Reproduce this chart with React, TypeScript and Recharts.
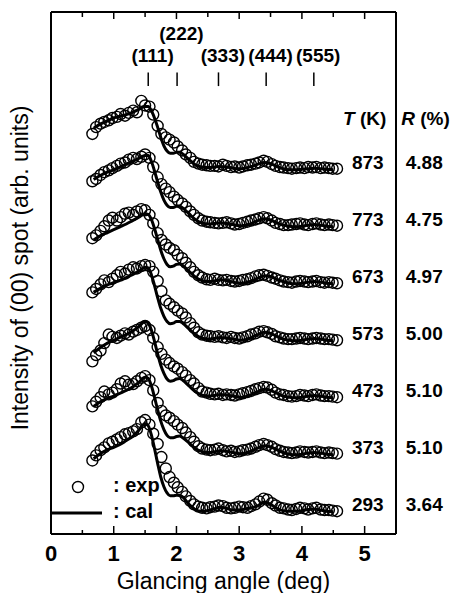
import { ComposedChart, Line, Scatter, XAxis, YAxis, ReferenceDot, ReferenceLine, Legend } from "recharts";

// glancing angles (deg) of measured points and of calculated curve
const ANGLES = [0.66, 0.72, 0.79, 0.85, 0.92, 0.98, 1.05, 1.11, 1.18, 1.24, 1.31, 1.37, 1.44, 1.5, 1.57, 1.63, 1.7, 1.76, 1.83, 1.89, 1.96, 2.02, 2.09, 2.15, 2.22, 2.28, 2.35, 2.41, 2.48, 2.54, 2.61, 2.67, 2.74, 2.8, 2.87, 2.93, 3.0, 3.06, 3.13, 3.19, 3.26, 3.32, 3.39, 3.45, 3.52, 3.58, 3.65, 3.71, 3.78, 3.84, 3.91, 3.97, 4.04, 4.1, 4.17, 4.23, 4.3, 4.36, 4.43, 4.49, 4.56];
const CAL_ANGLES = [0.68, 0.8, 0.9, 1.0, 1.1, 1.2, 1.3, 1.4, 1.5, 1.55, 1.6, 1.65, 1.7, 1.75, 1.8, 1.85, 1.9, 1.95, 2.0, 2.05, 2.1, 2.2, 2.3, 2.4, 2.5, 2.6, 2.7, 2.8, 2.9, 3.0, 3.1, 3.2, 3.3, 3.4, 3.5, 3.6, 3.7, 3.8, 3.9, 4.0, 4.1, 4.2, 4.3, 4.4, 4.5];

const TEMPS = ["873", "773", "673", "573", "473", "373", "293"];
const R_FACTORS = ["4.88", "4.75", "4.97", "5.00", "5.10", "5.10", "3.64"];

// intensities (arb. units, relative to each curve's own tail)
const EXP_873 = [0.62, 0.74, 0.8, 0.83, 0.86, 0.9, 0.92, 0.97, 0.94, 0.99, 1.03, 1.0, 1.2, 1.12, 1.1, 0.96, 0.76, 0.62, 0.56, 0.52, 0.47, 0.4, 0.33, 0.26, 0.2, 0.13, 0.1, 0.08, 0.07, 0.06, 0.06, 0.05, 0.08, 0.06, 0.04, 0.05, 0.03, 0.05, 0.07, 0.08, 0.1, 0.12, 0.15, 0.13, 0.09, 0.06, 0.04, 0.03, 0.02, 0.01, 0.02, 0.03, 0.02, 0.04, 0.03, 0.04, 0.02, 0.03, 0.02, 0.01, 0.01];
const EXP_773 = [0.79, 0.83, 0.9, 0.95, 0.98, 1.02, 1.06, 1.1, 1.12, 1.17, 1.2, 1.18, 1.22, 1.26, 1.2, 1.04, 0.86, 0.74, 0.66, 0.6, 0.52, 0.46, 0.4, 0.34, 0.26, 0.2, 0.14, 0.1, 0.08, 0.07, 0.06, 0.05, 0.06, 0.07, 0.05, 0.03, 0.04, 0.06, 0.08, 0.1, 0.12, 0.14, 0.16, 0.14, 0.1, 0.06, 0.04, 0.02, 0.02, 0.03, 0.04, 0.05, 0.03, 0.02, 0.04, 0.05, 0.03, 0.02, 0.03, 0.02, 0.01];
const EXP_673 = [0.79, 0.84, 0.92, 1.0, 1.1, 1.15, 1.1, 1.16, 1.22, 1.24, 1.2, 1.26, 1.3, 1.28, 1.2, 1.05, 0.88, 0.76, 0.68, 0.62, 0.58, 0.5, 0.44, 0.36, 0.28, 0.2, 0.14, 0.1, 0.07, 0.06, 0.08, 0.06, 0.05, 0.06, 0.04, 0.03, 0.04, 0.06, 0.07, 0.09, 0.12, 0.14, 0.15, 0.13, 0.1, 0.08, 0.05, 0.03, 0.02, 0.01, 0.03, 0.04, 0.03, 0.02, 0.03, 0.04, 0.02, 0.01, 0.02, 0.01, 0.0];
const EXP_573 = [0.84, 0.9, 0.98, 1.05, 1.02, 1.08, 1.14, 1.2, 1.17, 1.24, 1.28, 1.26, 1.3, 1.32, 1.3, 1.2, 1.04, 0.86, 0.7, 0.64, 0.58, 0.52, 0.47, 0.4, 0.3, 0.22, 0.14, 0.1, 0.08, 0.07, 0.06, 0.07, 0.05, 0.04, 0.06, 0.04, 0.03, 0.05, 0.07, 0.1, 0.12, 0.15, 0.16, 0.14, 0.11, 0.07, 0.05, 0.03, 0.02, 0.02, 0.03, 0.04, 0.03, 0.02, 0.03, 0.04, 0.03, 0.02, 0.02, 0.01, 0.0];
const EXP_473 = [0.63, 0.74, 0.82, 0.95, 1.1, 1.06, 1.04, 1.08, 1.12, 1.1, 1.15, 1.18, 1.22, 1.25, 1.18, 1.04, 0.88, 0.76, 0.66, 0.6, 0.54, 0.5, 0.44, 0.38, 0.3, 0.24, 0.16, 0.1, 0.08, 0.06, 0.05, 0.06, 0.04, 0.05, 0.04, 0.03, 0.05, 0.07, 0.09, 0.11, 0.14, 0.16, 0.18, 0.17, 0.13, 0.08, 0.05, 0.04, 0.02, 0.01, 0.02, 0.04, 0.03, 0.02, 0.04, 0.05, 0.03, 0.02, 0.02, 0.01, 0.0];
const EXP_373 = [0.84, 0.92, 1.0, 1.1, 1.05, 1.08, 1.14, 1.24, 1.28, 1.22, 1.23, 1.28, 1.34, 1.37, 1.3, 1.12, 0.9, 0.76, 0.68, 0.64, 0.58, 0.52, 0.46, 0.38, 0.3, 0.22, 0.14, 0.1, 0.08, 0.07, 0.08, 0.1, 0.07, 0.05, 0.06, 0.04, 0.05, 0.07, 0.08, 0.1, 0.13, 0.16, 0.18, 0.16, 0.13, 0.09, 0.06, 0.04, 0.03, 0.02, 0.03, 0.05, 0.04, 0.03, 0.04, 0.05, 0.03, 0.02, 0.03, 0.02, 0.01];
const EXP_293 = [0.89, 0.98, 1.07, 1.12, 1.19, 1.22, 1.26, 1.3, 1.35, 1.37, 1.4, 1.44, 1.56, 1.6, 1.52, 1.36, 1.18, 0.95, 0.75, 0.6, 0.5, 0.42, 0.34, 0.26, 0.18, 0.12, 0.08, 0.06, 0.05, 0.07, 0.08, 0.1, 0.09, 0.06, 0.05, 0.06, 0.08, 0.07, 0.06, 0.09, 0.12, 0.17, 0.22, 0.2, 0.14, 0.1, 0.06, 0.05, 0.03, 0.02, 0.04, 0.06, 0.05, 0.03, 0.05, 0.06, 0.03, 0.02, 0.02, 0.01, 0.0];

const CAL_873 = [0.72, 0.8, 0.85, 0.9, 0.93, 0.96, 1.0, 1.05, 1.1, 1.1, 1.03, 0.9, 0.74, 0.56, 0.41, 0.32, 0.28, 0.28, 0.3, 0.3, 0.27, 0.17, 0.08, 0.04, 0.03, 0.04, 0.05, 0.04, 0.02, 0.01, 0.02, 0.05, 0.09, 0.12, 0.1, 0.05, 0.01, -0.01, -0.01, 0.0, 0.01, 0.02, 0.01, 0.0, -0.01];
const CAL_773 = [0.82, 0.9, 0.95, 0.99, 1.04, 1.09, 1.14, 1.19, 1.24, 1.24, 1.14, 0.97, 0.78, 0.6, 0.46, 0.37, 0.33, 0.33, 0.35, 0.35, 0.32, 0.22, 0.12, 0.06, 0.04, 0.05, 0.06, 0.05, 0.03, 0.01, 0.02, 0.05, 0.1, 0.13, 0.11, 0.06, 0.02, 0.0, -0.01, 0.0, 0.02, 0.03, 0.02, 0.0, -0.01];
const CAL_673 = [0.76, 0.84, 0.89, 0.94, 0.99, 1.04, 1.1, 1.16, 1.22, 1.21, 1.12, 0.96, 0.77, 0.58, 0.43, 0.33, 0.29, 0.3, 0.33, 0.34, 0.31, 0.21, 0.11, 0.05, 0.03, 0.04, 0.06, 0.05, 0.02, 0.0, 0.01, 0.04, 0.09, 0.13, 0.12, 0.07, 0.03, 0.0, -0.01, 0.0, 0.02, 0.03, 0.02, 0.0, -0.01];
const CAL_573 = [0.84, 0.92, 0.97, 1.01, 1.05, 1.1, 1.15, 1.21, 1.28, 1.27, 1.15, 0.96, 0.75, 0.56, 0.42, 0.33, 0.29, 0.3, 0.33, 0.33, 0.3, 0.2, 0.1, 0.04, 0.02, 0.03, 0.05, 0.04, 0.02, 0.0, 0.01, 0.05, 0.1, 0.14, 0.12, 0.07, 0.02, 0.0, -0.01, 0.0, 0.02, 0.03, 0.02, 0.0, -0.01];
const CAL_473 = [0.78, 0.88, 0.95, 1.0, 1.05, 1.1, 1.16, 1.24, 1.33, 1.3, 1.18, 0.98, 0.76, 0.56, 0.42, 0.32, 0.28, 0.29, 0.32, 0.33, 0.3, 0.2, 0.1, 0.04, 0.02, 0.03, 0.05, 0.04, 0.02, 0.0, 0.01, 0.05, 0.1, 0.14, 0.12, 0.07, 0.02, 0.0, -0.01, 0.0, 0.02, 0.03, 0.02, 0.0, -0.01];
const CAL_373 = [0.84, 0.93, 0.98, 1.02, 1.07, 1.12, 1.18, 1.26, 1.35, 1.33, 1.2, 1.0, 0.78, 0.58, 0.43, 0.33, 0.29, 0.29, 0.31, 0.32, 0.29, 0.2, 0.1, 0.05, 0.03, 0.04, 0.06, 0.05, 0.03, 0.01, 0.02, 0.06, 0.11, 0.15, 0.13, 0.08, 0.03, 0.0, -0.01, 0.0, 0.02, 0.03, 0.02, 0.0, -0.01];
const CAL_293 = [0.92, 1.02, 1.08, 1.12, 1.17, 1.24, 1.31, 1.42, 1.54, 1.5, 1.34, 1.1, 0.84, 0.6, 0.43, 0.32, 0.27, 0.27, 0.28, 0.28, 0.25, 0.12, 0.03, 0.0, 0.01, 0.04, 0.07, 0.05, 0.02, 0.02, 0.04, 0.06, 0.1, 0.16, 0.12, 0.05, 0.01, 0.0, 0.0, 0.01, 0.03, 0.04, 0.02, 0.0, -0.01];

const PEAK_LABELS = ["(111)", "(222)", "(333)", "(444)", "(555)"];
const PEAK_ANGLES = [1.55, 2.01, 2.67, 3.43, 4.19];
const X_TICKS = [0, 0.5, 1, 1.5, 2, 2.5, 3, 3.5, 4, 4.5, 5];

const EXP_SETS = [EXP_873, EXP_773, EXP_673, EXP_573, EXP_473, EXP_373, EXP_293];
const CAL_SETS = [CAL_873, CAL_773, CAL_673, CAL_573, CAL_473, CAL_373, CAL_293];

const FONT = "'Liberation Sans', Arial, Helvetica, sans-serif";
const Y_MAX = 9.16;
const BASE = 0.4; // vertical offset of the lowest curve
const STEP = 1.0; // spacing between stacked curves

const curves = TEMPS.map((t, i) => {
  const off = BASE + (TEMPS.length - 1 - i) * STEP;
  return {
    t,
    r: R_FACTORS[i],
    off,
    exp: EXP_SETS[i].map((v, j) => ({ x: ANGLES[j], y: v + off })),
    cal: CAL_SETS[i].map((v, j) => ({ x: CAL_ANGLES[j], y: v + off })),
  };
});

const BottomTick = ({ x, y, payload }: any) => {
  const major = Number.isInteger(payload.value);
  return (
    <g>
      <line x1={x} x2={x} y1={y} y2={y - (major ? 8 : 4)} stroke="#000" strokeWidth={1.5} />
      {major && (
        <text x={x} y={y + 27} textAnchor="middle" fontSize={22} fontWeight="bold" fontFamily={FONT} fill="#000">
          {payload.value}
        </text>
      )}
    </g>
  );
};

const TopTick = ({ x, y, payload }: any) => {
  const major = Number.isInteger(payload.value);
  return <line x1={x} x2={x} y1={y} y2={y + (major ? 7 : 5)} stroke="#000" strokeWidth={1.5} />;
};

const Circle = (p: any) => <circle cx={p.cx} cy={p.cy} r={5.5} fill="none" stroke="#000" strokeWidth={1.4} />;

const textAt = (content: any, size = 19) => (p: any) => (
  <text x={p.cx} y={p.cy} dy="0.35em" textAnchor="middle" fontSize={size} fontWeight="bold" fontFamily={FONT} fill="#000">
    {content}
  </text>
);

const LegendBox = () => (
  <svg width={130} height={50}>
    <circle cx={27} cy={12} r={5.5} fill="none" stroke="#000" strokeWidth={1.4} />
    <text x={62} y={17} fontSize={20} fontWeight="bold" fontFamily={FONT}>: exp</text>
    <line x1={0} x2={51} y1={38} y2={38} stroke="#000" strokeWidth={3} />
    <text x={62} y={43} fontSize={20} fontWeight="bold" fontFamily={FONT}>: cal</text>
  </svg>
);

export default function App() {
  return (
    <div style={{ position: "absolute", left: 0, top: 0 }}>
      <ComposedChart width={456} height={593} margin={{ top: 11, right: 59, bottom: 0, left: 0 }}>
        <XAxis
          dataKey="x"
          type="number"
          domain={[0, 5.5]}
          ticks={X_TICKS}
          interval={0}
          height={59}
          tickSize={0}
          tickMargin={0}
          tickLine={false}
          tick={<BottomTick />}
          axisLine={{ stroke: "#000", strokeWidth: 2 }}
          allowDataOverflow
          label={(props: any) => {
            const vb = props.viewBox || { x: 51, y: 534, width: 345, height: 59 };
            return (
              <text x={vb.x + vb.width / 2} y={vb.y + 55} textAnchor="middle" fontSize={23} fontFamily={FONT} fill="#000">
                Glancing angle (deg)
              </text>
            );
          }}
        />
        <XAxis
          xAxisId="top"
          orientation="top"
          dataKey="x"
          type="number"
          domain={[0, 5.5]}
          ticks={X_TICKS}
          interval={0}
          height={1}
          tickSize={0}
          tickMargin={0}
          tickLine={false}
          tick={<TopTick />}
          axisLine={{ stroke: "#000", strokeWidth: 2 }}
          allowDataOverflow
        />
        <YAxis
          dataKey="y"
          type="number"
          domain={[0, Y_MAX]}
          width={51}
          tick={false}
          tickLine={false}
          axisLine={{ stroke: "#000", strokeWidth: 2 }}
          allowDataOverflow
          label={(props: any) => {
            const vb = props.viewBox || { x: 0, y: 12, width: 51, height: 522 };
            const cx = vb.x + 28;
            const cy = vb.y + vb.height / 2 - 5;
            return (
              <text x={cx} y={cy} transform={`rotate(-90, ${cx}, ${cy})`} textAnchor="middle" fontSize={23} fontFamily={FONT} fill="#000">
                Intensity of (00) spot (arb. units)
              </text>
            );
          }}
        />
        <YAxis
          yAxisId="right"
          orientation="right"
          type="number"
          domain={[0, Y_MAX]}
          width={1}
          tick={false}
          tickLine={false}
          axisLine={{ stroke: "#000", strokeWidth: 2 }}
        />

        {curves.map((c) => (
          <Scatter key={"e" + c.t} data={c.exp} dataKey="y" shape={Circle} isAnimationActive={false} />
        ))}
        {curves.map((c) => (
          <Line
            key={"c" + c.t}
            data={c.cal}
            dataKey="y"
            type="monotone"
            stroke="#000"
            strokeWidth={3}
            dot={false}
            activeDot={false}
            isAnimationActive={false}
          />
        ))}

        {PEAK_ANGLES.map((a, i) => (
          <ReferenceLine
            key={"pk" + i}
            segment={[{ x: a, y: 7.86 }, { x: a, y: 8.1 }]}
            stroke="#000"
            strokeWidth={1.5}
          />
        ))}
        {PEAK_ANGLES.map((a, i) => (
          <ReferenceDot
            key={"pl" + i}
            x={a + 0.07}
            y={i === 1 ? 8.78 : 8.4}
            r={0}
            ifOverflow="visible"
            shape={textAt(PEAK_LABELS[i])}
          />
        ))}

        <ReferenceDot x={5.0} y={7.3} r={0} ifOverflow="visible" shape={textAt(<><tspan fontStyle="italic">T</tspan> (K)</>)} />
        <ReferenceDot x={5.97} y={7.3} r={0} ifOverflow="visible" shape={textAt(<><tspan fontStyle="italic">R</tspan> (%)</>)} />
        {curves.map((c) => (
          <ReferenceDot key={"t" + c.t} x={5.05} y={c.off + 0.12} r={0} ifOverflow="visible" shape={textAt(c.t)} />
        ))}
        {curves.map((c) => (
          <ReferenceDot key={"r" + c.t} x={5.95} y={c.off + 0.12} r={0} ifOverflow="visible" shape={textAt(c.r)} />
        ))}

        <Legend
          layout="horizontal"
          verticalAlign="middle"
          align="center"
          content={() => <LegendBox />}
          wrapperStyle={{ position: "absolute", left: 51, top: 475, width: 130, height: 50 }}
        />
      </ComposedChart>
    </div>
  );
}
